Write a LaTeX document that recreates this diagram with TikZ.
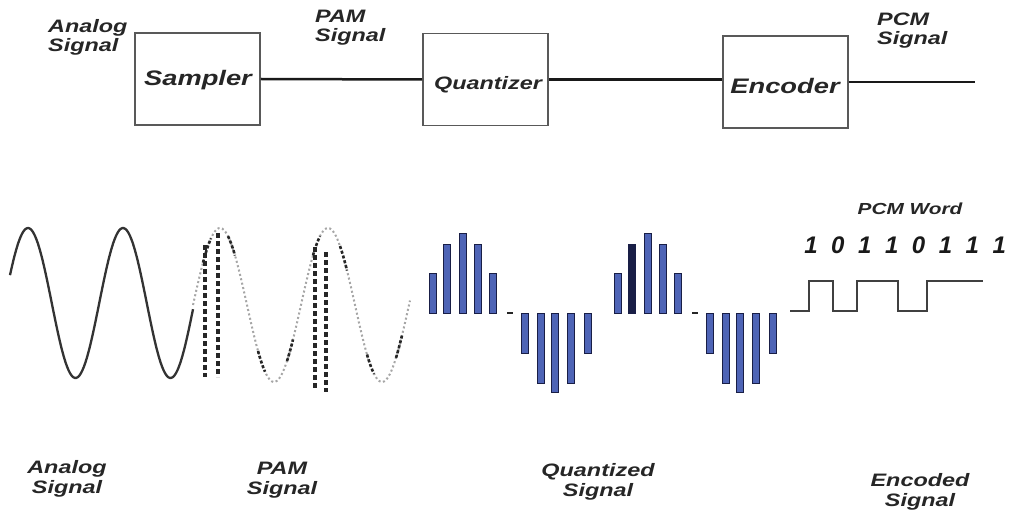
\documentclass[tikz,border=0pt]{standalone}
\usepackage{fontspec}
\setmainfont{Liberation Sans}
\newfontfamily\widesans{Liberation Sans}[FakeStretch=1.3]
\definecolor{qblue}{RGB}{78,100,182}
\definecolor{qnavy}{RGB}{25,30,70}
\begin{document}
\begin{tikzpicture}[x=1pt,y=-1pt,
  blockbox/.style={draw=black!65, line width=1.6pt, minimum width=125pt, minimum height=92pt, inner sep=0pt},
  blocktext/.style={font=\widesans\bfseries\itshape\fontsize{21}{24}\selectfont, text=black!85, inner sep=0pt},
  toplabel/.style={font=\widesans\bfseries\itshape\fontsize{18}{19}\selectfont, align=left, inner sep=0pt, text=black!85},
  botlabel/.style={font=\widesans\bfseries\itshape\fontsize{18}{19.5}\selectfont, align=center, inner sep=0pt, text=black!85},
  bitlabel/.style={font=\bfseries\itshape\fontsize{24}{24}\selectfont, inner sep=0pt, text=black!90},
  wire/.style={line width=2.5pt, black!90},
  qbar/.style={fill=qblue, draw=qnavy, line width=0.9pt},
  pulse/.style={line width=3.5pt, black!85, dash pattern=on 5pt off 3pt},
]
\useasboundingbox[fill=white] (0,0) rectangle (1009,513);

% ---- block chain ----
\node[blockbox] (smp) at (197.5,79) {};
\node[blocktext] (smpt) at (198,80) {Sampler};
\node[blockbox] (qnt) at (485.5,79.5) {};
\node[blocktext, font=\widesans\bfseries\itshape\fontsize{18}{20}\selectfont] (qntt) at (488,85) {Quantizer};
\node[blockbox] (enc) at (785.5,82) {};
\node[blocktext] (enct) at (785,86) {Encoder};
\coordinate (pcmout) at (975,83);

\draw[wire] (smp.east) -- (qnt.west);
\draw[wire] (qnt.east) -- (qnt.east -| enc.west);
\draw[wire] (enc.east) -- (enc.east -| pcmout);

\node[toplabel, anchor=north west] (la) at (48,19) {Analog\\Signal};
\node[toplabel, anchor=north west] (lb) at (315,10) {PAM\\Signal};
\node[toplabel, anchor=north west] (lc) at (877,13) {PCM\\Signal};

% ---- analog sine (period 95, degrees per unit 360/95) ----
\draw[line width=2.3pt, black!80] plot[smooth, domain=10:193, samples=120] (\x,{303-75*sin(3.78947*(\x-4.25))});

% ---- PAM: dotted carrier (period 108), sample marks and pulses ----
\draw[line width=2pt, black!35, dash pattern=on 2pt off 2.5pt] plot[smooth, domain=193:410, samples=120] (\x,{305-77*sin(3.33333*(\x-193))});
\foreach \a/\b in {203/211, 228/235, 258/265, 287/293, 313/320, 340/347, 367/374, 396/402}
  \draw[line width=2.6pt, black!85, dash pattern=on 3pt off 2pt] plot[smooth, domain=\a:\b, samples=10] (\x,{305-77*sin(3.33333*(\x-193))});
\foreach \px/\pt/\pb in {205/245/377, 218/233/377, 315/247/390, 326/252/392}
  \draw[pulse] (\px,\pt) -- (\px,\pb);

% ---- quantized levels ----
\foreach \g in {0,185} {
  \foreach \qx/\qt in {432.5/273, 447/244, 463/233, 478/244, 493/273}
    \draw[qbar] ({\qx+\g-3.5},\qt) rectangle ({\qx+\g+3.5},313);
  \foreach \qx/\qb in {524.5/353, 540.5/383, 554.5/392, 570.5/383, 587.5/353}
    \draw[qbar] ({\qx+\g-3.5},313) rectangle ({\qx+\g+3.5},\qb);
  \draw[line width=1.5pt, black!85] ({507+\g},313) -- ({513+\g},313);
}
\draw[qbar, fill=qnavy] (628.5,244) rectangle (635.5,313);

% ---- PCM word ----
\node[toplabel, font=\widesans\bfseries\itshape\fontsize{16}{18}\selectfont] (pw) at (910,209) {PCM Word};
\foreach \d [count=\i from 0] in {1,0,1,1,0,1,1,1}
  \node[bitlabel] (bit\i) at ({811+26.9*\i},245) {\d};
\draw[line width=1.8pt, black!75] (790,311) -| (809,281) -| (833,311) -| (857,281) -| (898,311) -| (927,281) -- (983,281);

% ---- captions ----
\node[botlabel] (ba) at (67,479) {Analog\\Signal};
\node[botlabel] (bb) at (282,480) {PAM\\Signal};
\node[botlabel] (bc) at (598,482) {Quantized\\Signal};
\node[botlabel] (bd) at (920,492) {Encoded\\Signal};
\end{tikzpicture}
\end{document}
